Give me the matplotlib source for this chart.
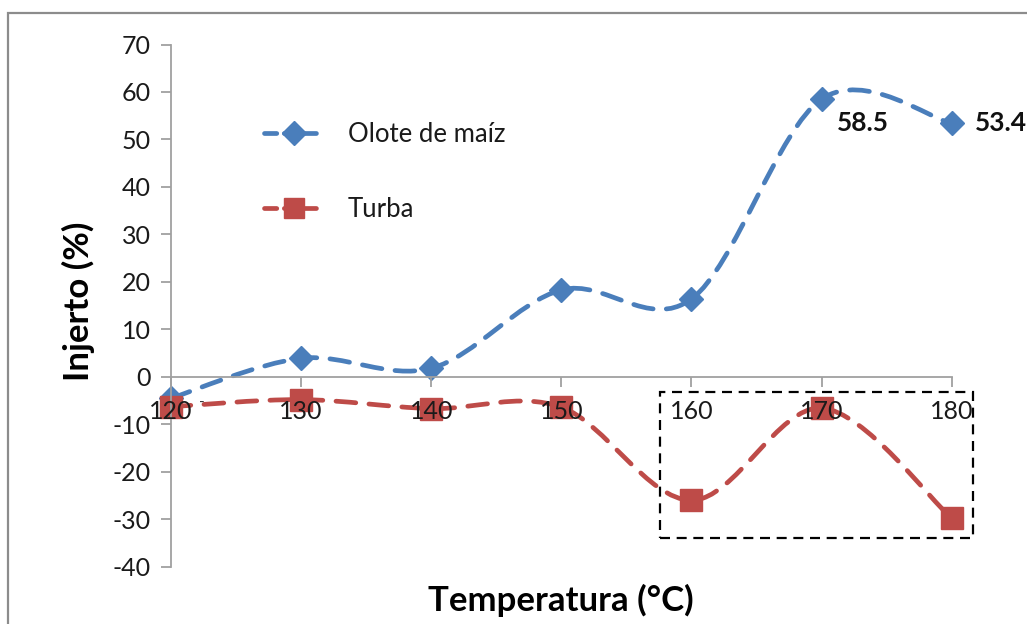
import numpy as np
import matplotlib
matplotlib.use("Agg")
import matplotlib.pyplot as plt
from matplotlib.path import Path
from matplotlib.patches import PathPatch, Rectangle
from matplotlib.lines import Line2D

plt.rcParams['font.family'] = ['Lato', 'DejaVu Sans']
plt.rcParams['axes.unicode_minus'] = False

temps = [120, 130, 140, 150, 160, 170, 180]
olote = [-4.5, 3.9, 1.8, 18.3, 16.4, 58.5, 53.4]
turba = [-6.3, -4.8, -6.7, -6.4, -26.0, -6.6, -29.8]
labels = ["Olote de maíz", "Turba"]
colors = ["#4A7EBB", "#BE4B48"]
yticks = list(range(-40, 80, 10))
# dashed highlight box (data coords)
box_x, box_y, box_w, box_h = 157.6, -34.0, 24.0, 30.9


def smooth_path(x, y):
    # excel-like smoothed line: cubic bezier, catmull-rom control points
    x = np.asarray(x, float)
    y = np.asarray(y, float)
    n = len(x)
    verts = [(x[0], y[0])]
    codes = [Path.MOVETO]
    for i in range(n - 1):
        i0 = max(i - 1, 0)
        i3 = min(i + 2, n - 1)
        c1 = (x[i] + (x[i + 1] - x[i0]) / 6, y[i] + (y[i + 1] - y[i0]) / 6)
        c2 = (x[i + 1] - (x[i3] - x[i]) / 6, y[i + 1] - (y[i3] - y[i]) / 6)
        verts += [c1, c2, (x[i + 1], y[i + 1])]
        codes += [Path.CURVE4] * 3
    return Path(verts, codes)


fig = plt.figure(figsize=(10.27, 6.24), dpi=100)
ax = fig.add_axes([171 / 1027, 1 - 566.7 / 624, (951.7 - 171) / 1027, (566.7 - 44.5) / 624])

ls = (0, (4.2, 2.8))
for ys, col, mk, ms in [(olote, colors[0], 'D', 12.5), (turba, colors[1], 's', 16)]:
    p = PathPatch(smooth_path(temps, ys), fill=False, edgecolor=col, lw=3.4,
                  linestyle=ls, joinstyle='round', zorder=1.5, clip_on=False)
    p.set_capstyle('round')
    ax.add_patch(p)
    ax.plot(temps, ys, linestyle='none', marker=mk, ms=ms, color=col,
            mec=col, clip_on=False, zorder=2)

ax.set_xlim(120, 180)
ax.set_ylim(-40, 70)
ax.set_xticks(temps)
ax.set_yticks(yticks)

for s in ['top', 'right']:
    ax.spines[s].set_visible(False)
ax.spines['bottom'].set_position(('data', 0))
ax.spines['left'].set_position(('data', 120))
for s in ['bottom', 'left']:
    ax.spines[s].set_color('#a0a0a0')
    ax.spines[s].set_linewidth(1.3)

ax.tick_params(axis='both', direction='out', length=7.5, width=1.3,
               color='#a0a0a0', labelsize=18, labelcolor='#1a1a1a')
ax.tick_params(axis='x', pad=9)
ax.tick_params(axis='y', pad=7)
ax.xaxis.set_zorder(4)
ax.yaxis.set_zorder(4)

# data labels
ax.annotate("58.5", (temps[5], olote[5]), xytext=(11, -17), textcoords='offset points',
            ha='left', va='center', fontsize=19, fontweight='bold', color='#111111',
            annotation_clip=False)
ax.annotate("53.4", (temps[6], olote[6]), xytext=(17, 0), textcoords='offset points',
            ha='left', va='center', fontsize=19, fontweight='bold', color='#111111',
            annotation_clip=False)
ax.text(122.4, -5.4, "-", fontsize=11, color='#333333', ha='center', va='center')

ax.add_patch(Rectangle((box_x, box_y), box_w, box_h, fill=False, edgecolor='black',
                       lw=1.6, linestyle=(0, (4.5, 3)), clip_on=False, zorder=3))

handles = [Line2D([], [], color=colors[0], lw=3.4, linestyle=(0, (2.6, 1.6)),
                  dash_capstyle='round', marker='D', ms=12.5),
           Line2D([], [], color=colors[1], lw=3.4, linestyle=(0, (2.6, 1.6)),
                  dash_capstyle='round', marker='s', ms=14)]
fig.legend(handles, labels, loc='upper left', bbox_to_anchor=(264 / 1027, 1 - 122 / 624),
           frameon=False, fontsize=18.5, handlelength=2.3, handletextpad=0.97,
           labelspacing=1.95, borderpad=0, borderaxespad=0, numpoints=1,
           labelcolor='#1a1a1a')

fig.text(561 / 1027, 1 - 600 / 624, "Temperatura (°C)", ha='center', va='center',
         fontsize=25, fontweight='bold', color='black')
fig.text(78 / 1027, 1 - 301 / 624, "Injerto (%)", ha='center', va='center',
         rotation=90, fontsize=25, fontweight='bold', color='black')

# outer chart border
fig.add_artist(Rectangle((8 / 1027, -0.1), 1.2, 1 - 13 / 624 + 0.1,
                         transform=fig.transFigure, fill=False, edgecolor='#8c8c8c',
                         lw=1.6))

fig.savefig("out.png", dpi=100)
